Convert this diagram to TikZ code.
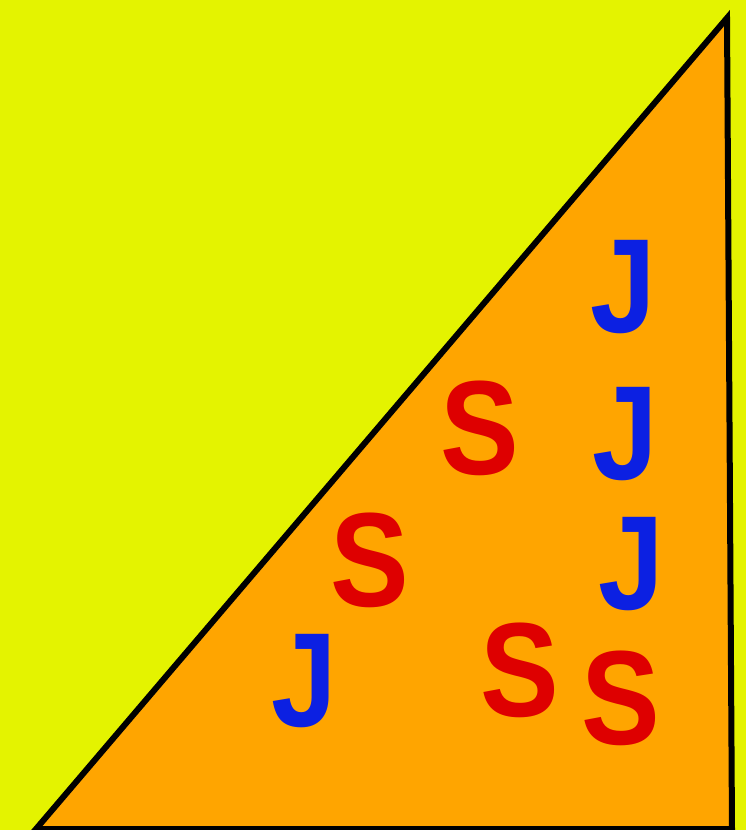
\documentclass[tikz,border=0pt]{standalone}
\usepackage{fontspec}
\setsansfont{Liberation Sans}
\definecolor{bgyellow}{RGB}{228,243,0}
\definecolor{triorange}{RGB}{255,165,0}
\definecolor{jblue}{RGB}{12,32,226}
\definecolor{sred}{RGB}{222,0,0}

\begin{document}
\begin{tikzpicture}[
    x=1pt, y=-1pt,
    letter/.style={inner sep=0pt, xscale=0.88, font=\fontsize{134}{134}\selectfont\sffamily\bfseries},
    jay/.style={letter, text=jblue},
    ess/.style={letter, text=sred}
  ]

  % ---- background and triangle ----
  \fill[bgyellow] (0,0) rectangle (746,830);
  \useasboundingbox (0,0) rectangle (746,830);
  \coordinate (apex) at (727,18);
  \coordinate (botL) at (36,829);
  \coordinate (botR) at (732,829);
  \draw[line width=6pt, line join=miter, fill=triorange]
    (apex) -- (botR) -- (botL) -- cycle;

  % ---- the J's ----
  \node[jay] (j1) at (623,287) {J};
  \node[jay] (j2) at (625,434) {J};
  \node[jay] (j3) at (631,564) {J};
  \node[jay] (j4) at (304,681) {J};

  % ---- the S's ----
  \node[ess] (s1) at (480,428) {S};
  \node[ess] (s2) at (370,560) {S};
  \node[ess] (s3) at (520,670) {S};
  \node[ess] (s4) at (621,698) {S};

\end{tikzpicture}
\end{document}
